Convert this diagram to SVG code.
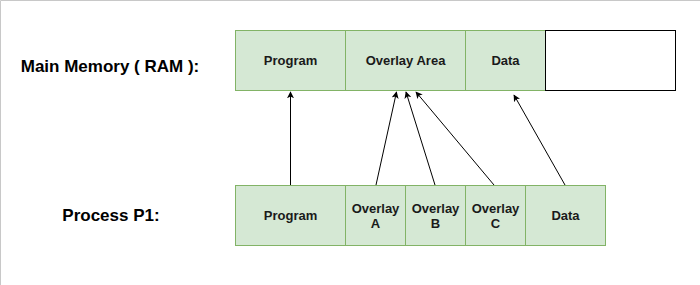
<svg xmlns="http://www.w3.org/2000/svg" width="700" height="285" viewBox="0 0 700 285">
<defs>
<style>
.bx{fill:#d5e8d4;stroke:#82b366;stroke-width:1}
.bxw{fill:#ffffff;stroke:#000000;stroke-width:1}
.t{font-family:"Liberation Sans",Arial,sans-serif;font-size:13px;font-weight:bold;fill:#1a1a1a;text-anchor:middle;dominant-baseline:central}
.lbl{font-family:"Liberation Sans",Arial,sans-serif;font-size:17px;font-weight:bold;fill:#000;text-anchor:middle;dominant-baseline:central}
.c{stroke:#000;stroke-width:1;fill:none;marker-end:url(#ah)}
</style>
<marker id="ah" viewBox="0 0 10 10" refX="9" refY="5" markerWidth="7" markerHeight="7" orient="auto" markerUnits="userSpaceOnUse">
<path d="M0,0 L10,5 L0,10 L2.5,5 Z" fill="#000"/>
</marker>
</defs>
<rect x="0" y="0" width="700" height="285" fill="#fff"/>
<path d="M0.5,285 V0.5 H700" stroke="#c8c8c8" stroke-width="1" fill="none"/>
<g id="label-ram"><text class="lbl" x="110" y="66">Main Memory ( RAM ):</text></g>
<g id="label-p1"><text class="lbl" x="111" y="215">Process P1:</text></g>
<g id="ram-program"><rect class="bx" x="235.5" y="30.5" width="110" height="60"/><text class="t" x="290.5" y="60.5">Program</text></g>
<g id="ram-overlay"><rect class="bx" x="345.5" y="30.5" width="120" height="60"/><text class="t" x="405.5" y="60.5">Overlay Area</text></g>
<g id="ram-data"><rect class="bx" x="465.5" y="30.5" width="80" height="60"/><text class="t" x="505.5" y="60.5">Data</text></g>
<g id="ram-free"><rect class="bxw" x="545.5" y="30.5" width="130" height="60"/></g>
<g id="p1-program"><rect class="bx" x="235.5" y="185.5" width="110" height="60"/><text class="t" x="290.5" y="215.5">Program</text></g>
<g id="p1-ova"><rect class="bx" x="345.5" y="185.5" width="60" height="60"/><text class="t" x="375.5" y="208">Overlay</text><text class="t" x="375.5" y="223">A</text></g>
<g id="p1-ovb"><rect class="bx" x="405.5" y="185.5" width="60" height="60"/><text class="t" x="435.5" y="208">Overlay</text><text class="t" x="435.5" y="223">B</text></g>
<g id="p1-ovc"><rect class="bx" x="465.5" y="185.5" width="60" height="60"/><text class="t" x="495.5" y="208">Overlay</text><text class="t" x="495.5" y="223">C</text></g>
<g id="p1-data"><rect class="bx" x="525.5" y="185.5" width="80" height="60"/><text class="t" x="565.5" y="215.5">Data</text></g>
<g id="connectors">
<line class="c" x1="290.5" y1="185" x2="290.5" y2="92"/>
<line class="c" x1="376" y1="185" x2="396.5" y2="92"/>
<line class="c" x1="435" y1="185" x2="406" y2="92"/>
<line class="c" x1="494" y1="185" x2="416" y2="92"/>
<line class="c" x1="565" y1="185" x2="514" y2="95"/>
</g>
</svg>
